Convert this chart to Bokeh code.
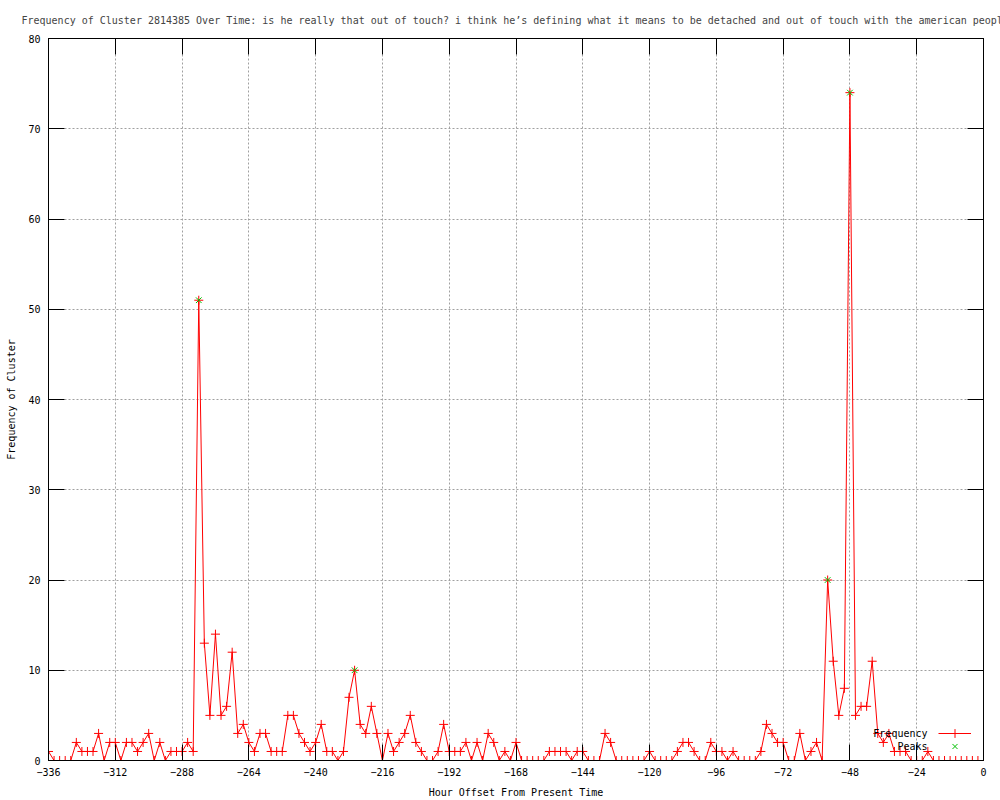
from bokeh.plotting import figure
from bokeh.models import LinearAxis, FixedTicker, Label, Legend, LegendItem, Range1d
from bokeh.embed import file_html
from bokeh.resources import INLINE

# ---- data ----
hours = list(range(-336, 1, 2))
frequency = [
    1, 0, 0, 0, 0, 2, 1, 1, 1, 3,
    0, 2, 2, 0, 2, 2, 1, 2, 3, 0,
    2, 0, 1, 1, 1, 2, 1, 51, 13, 5,
    14, 5, 6, 12, 3, 4, 2, 1, 3, 3,
    1, 1, 1, 5, 5, 3, 2, 1, 2, 4,
    1, 1, 0, 1, 7, 10, 4, 3, 6, 3,
    0, 3, 1, 2, 3, 5, 2, 1, 0, 0,
    1, 4, 1, 1, 1, 2, 0, 2, 0, 3,
    2, 0, 1, 0, 2, 0, 0, 0, 0, 0,
    1, 1, 1, 1, 0, 1, 1, 0, 0, 0,
    3, 2, 0, 0, 0, 0, 0, 0, 1, 0,
    0, 0, 0, 1, 2, 2, 1, 0, 0, 2,
    1, 1, 0, 1, 0, 0, 0, 0, 1, 4,
    3, 2, 2, 0, 0, 3, 0, 1, 2, 0,
    20, 11, 5, 8, 74, 5, 6, 6, 11, 3,
    2, 3, 1, 1, 1, 0, 0, 0, 1, 0,
    0, 0, 0, 0, 0, 0, 0, 0, 0,
]
peak_hours = [-282, -226, -56, -48]
peak_values = [51, 10, 20, 74]
x_ticks = list(range(-336, 1, 24))
y_ticks = list(range(0, 81, 10))
series_names = ["Frequency", "Peaks"]

TITLE = ("Frequency of Cluster 2814385 Over Time: is he really that out of touch? "
         "i think he\u2019s defining what it means to be detached and out of touch with the american people")
FONT = "DejaVu Sans Mono"

p = figure(width=1000, height=800,
           x_range=Range1d(-336, 0), y_range=Range1d(0, 80),
           output_backend="svg", toolbar_location=None,
           min_border_left=48, min_border_right=17,
           min_border_top=38, min_border_bottom=40,
           x_axis_label="Hour Offset From Present Time",
           y_axis_label="Frequency of Cluster")

p.title.text = TITLE
p.title.align = "left"
p.title.offset = -27
p.title.text_font = FONT
p.title.text_font_size = "10px"
p.title.text_font_style = "normal"
p.title.standoff = 25

p.outline_line_color = "black"
p.outline_line_width = 1
p.background_fill_color = "white"
p.border_fill_color = "white"

def style_axis(ax, ticks):
    ax.ticker = FixedTicker(ticks=ticks)
    ax.major_tick_in = 16
    ax.major_tick_out = 0
    ax.minor_tick_in = 0
    ax.minor_tick_out = 0
    ax.major_tick_line_color = "black"
    ax.axis_line_color = "black"
    ax.major_label_text_font = FONT
    ax.major_label_text_font_size = "10px"
    ax.major_label_text_color = "black"
    ax.axis_label_text_font = FONT
    ax.axis_label_text_font_size = "10px"
    ax.axis_label_text_font_style = "normal"
    ax.axis_label_text_color = "black"

style_axis(p.xaxis[0], x_ticks)
p.xaxis[0].major_label_standoff = 7
p.xaxis[0].axis_label_standoff = 8
style_axis(p.yaxis[0], y_ticks)
p.yaxis[0].major_label_standoff = 8
p.yaxis[0].axis_label_standoff = 8

top = LinearAxis()
style_axis(top, x_ticks)
top.major_label_text_font_size = "0px"
top.major_label_standoff = 0
top.major_label_overrides = {t: "" for t in x_ticks}
p.add_layout(top, "above")

right = LinearAxis()
style_axis(right, y_ticks)
right.major_label_text_font_size = "0px"
right.major_label_standoff = 0
right.major_label_overrides = {t: "" for t in y_ticks}
p.add_layout(right, "right")

p.xgrid.ticker = FixedTicker(ticks=x_ticks)
p.ygrid.ticker = FixedTicker(ticks=y_ticks)
for g in (p.xgrid[0], p.ygrid[0]):
    g.grid_line_color = "#a0a0a0"
    g.grid_line_dash = "2 2"
    g.grid_line_width = 1

# ---- series ----
r_line = p.line(hours, frequency, line_color="#ff0000", line_width=1)
r_pts = p.scatter(hours, frequency, marker="cross", size=9, line_color="#ff0000", line_width=1)
r_peaks = p.scatter(peak_hours, peak_values, marker="x", size=8, line_color="#00c000", line_width=1)

# ---- legend: gnuplot style, text on the left, sample on the right ----
def sample_legend(renderers, loc, gh):
    lg = Legend(items=[LegendItem(label=" ", renderers=renderers)],
                location=loc, orientation="vertical",
                glyph_width=33, glyph_height=gh, spacing=0,
                label_width=0, label_height=0, label_standoff=0,
                label_text_font_size="1px", padding=0, margin=0,
                background_fill_alpha=0, border_line_alpha=0)
    p.add_layout(lg)

sample_legend([r_line, r_pts], (890, 16), 22)
sample_legend([r_peaks], (890, 5), 18)

for name, ly in zip(series_names, [27, 14]):
    p.add_layout(Label(x=879, y=ly, x_units="screen", y_units="screen", text=name,
                       text_align="right", text_baseline="middle", text_font=FONT,
                       text_font_size="10px", text_color="black"))

open("out.html", "w").write(file_html(p, INLINE))
